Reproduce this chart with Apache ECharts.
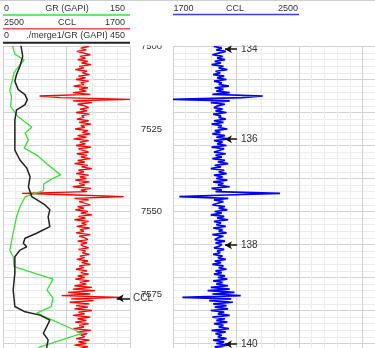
<!DOCTYPE html>
<html>
<head>
<meta charset="utf-8">
<script src="https://cdn.jsdelivr.net/npm/echarts@6/dist/echarts.min.js"></script>
<style>
  html, body { margin: 0; padding: 0; background: #fff; }
  #chart { width: 375px; height: 348px; }
</style>
</head>
<body>
<div id="chart"></div>
<script>
// ---- Log data (depth in ft) ----
const grDepth = [7499.5, 7502.3, 7504.1, 7505.9, 7507.9, 7510.2, 7513.2, 7515.2, 7518.2, 7521.3,
  7524.5, 7526.2, 7528.3, 7530.8, 7532.9, 7535.6, 7538.9, 7540.2, 7541.7, 7543.7,
  7545.6, 7548.6, 7551.6, 7556.5, 7561.7, 7563.7, 7566.7, 7570.5, 7573.8, 7576.2,
  7578.8, 7580.8, 7586.9, 7591.0, 7594.0];
const grValue = [11, 14, 25, 19, 13, 11, 8, 10, 9, 18,
  34, 26, 30, 25, 40, 52, 68, 57, 48, 48,
  26, 20, 16, 12, 8, 12, 13, 59, 52, 59,
  57, 40, 93, 44, 30];

const mergeGrDepth = [7499.5, 7503.0, 7506.0, 7508.5, 7510.5, 7513.1, 7514.6, 7516.1, 7517.6, 7518.6,
  7519.2, 7522.3, 7525.3, 7531.4, 7534.4, 7536.8, 7539.5, 7542.5, 7545.5, 7548.0,
  7549.5, 7551.6, 7554.6, 7556.6, 7558.1, 7559.6, 7560.7, 7561.7, 7563.7, 7568.7,
  7573.8, 7578.8, 7580.4, 7581.4, 7582.9, 7584.9, 7586.9, 7588.9, 7591.0, 7594.0];
const mergeGrValue = [63, 70, 60, 48, 42, 54, 78, 86, 78, 60,
  48, 42, 42, 42, 60, 84, 96, 90, 102, 149,
  166, 160, 166, 119, 78, 72, 84, 60, 42, 42,
  36, 42, 78, 131, 166, 155, 143, 160, 155, 150];

// CCL sampled every 0.5 ft starting at 7499 ft
const cclStartDepth = 7499;
const cclStep = 0.5;
const cclValue = [
  1985, 2020, 1960, 2010, 1975, 2035, 1990, 1950, 2015, 1980,
  2030, 1965, 2005, 1945, 2020, 1990, 2045, 1970, 2000, 1955,
  2025, 1980, 2040, 1960, 2010, 1990, 2055, 1965, 2020, 1975,
  2060, 1950, 2270, 2140, 1700, 2060, 1940, 2030, 1985, 1960,
  2015, 1970, 2040, 1955, 2005, 1990, 2035, 1960, 2020, 1945,
  2010, 1985, 2045, 1965, 2000, 1950, 2030, 1975, 2055, 1960,
  2015, 1980, 2040, 1945, 2025, 1995, 1960, 2035, 1970, 2010,
  1950, 2030, 1985, 2050, 1965, 2005, 1940, 2025, 1990, 2040,
  1960, 2015, 1975, 2045, 1955, 2020, 1985, 2060, 1945, 2010,
  1970, 2380, 2040, 1740, 2050, 1960, 2020, 1985, 1950, 2030,
  1990, 2045, 1965, 2010, 1940, 2025, 1980, 2050, 1960, 2005,
  1975, 2035, 1955, 2015, 1990, 2040, 1950, 2020, 1985, 1965,
  2030, 1970, 2010, 1995, 1960, 2025, 1980, 2000, 1955, 2015,
  1985, 2035, 1965, 2005, 1950, 2020, 1990, 2040, 1970, 2010,
  1960, 2030, 1985, 2045, 1955, 2015, 1975, 2050, 1940, 2060,
  1920, 2090, 1950, 2130, 1760, 2070, 1930, 2080, 1955, 2040,
  1965, 2050, 1940, 2025, 1985, 2060, 1950, 2030, 1975, 2045,
  1960, 2020, 1990, 2055, 1945, 2035, 1970, 2010, 1985, 2040,
  1955, 2025, 1975, 2050, 1965, 2015, 1990, 2030
];

// Collar markers
const collarDepth = [7500.8, 7528.1, 7560.2, 7590.2];
const collarLabel = ['134', '136', '138', '140'];
const cclMarkDepth = 7576.3;
const cclMarkLabel = 'CCL';

const depthLabelTicks = 25;

// ---- Build series data ----
const zip = (xs, ds) => xs.map((v, i) => [v, ds[i]]);
const cclDepth = cclValue.map((_, i) => cclStartDepth + i * cclStep);

const FONT = '"Liberation Sans", Arial, sans-serif';
const TXT = '#333';
const LIGHT = '#ececec', DARK = '#d2d2d2';
const fiveCycle = [DARK, LIGHT, LIGHT, LIGHT, LIGHT];

function depthAxis(gridIndex) {
  return {
    type: 'value', gridIndex, inverse: true, min: 7500, max: 7600, interval: 2,
    axisLine: { show: false }, axisTick: { show: false }, axisLabel: { show: false },
    splitLine: { show: true, lineStyle: { color: fiveCycle, width: 1 } }
  };
}
function valueAxis(gridIndex, min, max, interval, withGrid, inverse) {
  return {
    type: 'value', gridIndex, min, max, interval, inverse: !!inverse,
    axisLine: { show: false }, axisTick: { show: false }, axisLabel: { show: false },
    splitLine: { show: withGrid, lineStyle: { color: fiveCycle, width: 1 } }
  };
}

const trackTop = 46.5, trackH = 330;
const gridBase = { top: trackTop, height: trackH, containLabel: false, outerBoundsMode: 'none' };

const option = {
  animation: false,
  backgroundColor: '#fff',
  grid: [
    Object.assign({ left: 3, width: 127 }, gridBase),
    Object.assign({ left: 173, width: 126 }, gridBase),
    Object.assign({ left: 299, width: 127 }, gridBase)
  ],
  xAxis: [
    valueAxis(0, 0, 150, 15, true),           // GR
    valueAxis(0, 1700, 2500, 80, false, true), // CCL (reversed)
    valueAxis(0, 0, 450, 45, false),          // merged GR
    valueAxis(1, 1700, 2500, 80, true),       // CCL
    valueAxis(2, 0, 10, 1, true)              // empty track
  ],
  yAxis: [
    depthAxis(0),
    depthAxis(1),
    depthAxis(2),
    {
      type: 'value', gridIndex: 1, inverse: true, min: 7500, max: 7600, interval: depthLabelTicks,
      position: 'left',
      axisLine: { show: false }, axisTick: { show: false }, splitLine: { show: false },
      axisLabel: {
        show: true, color: TXT, fontSize: 9.5, fontFamily: FONT, align: 'center', margin: 21.5,
        showMinLabel: true, showMaxLabel: false, formatter: v => String(v)
      }
    }
  ],
  series: [
    {
      type: 'line', xAxisIndex: 0, yAxisIndex: 0, data: zip(grValue, grDepth),
      showSymbol: false, clip: true, lineStyle: { color: '#3bdc3b', width: 1.3 }, z: 3
    },
    {
      type: 'line', xAxisIndex: 2, yAxisIndex: 0, data: zip(mergeGrValue, mergeGrDepth),
      showSymbol: false, clip: true, lineStyle: { color: '#222', width: 1.5 }, z: 4
    },
    {
      type: 'line', xAxisIndex: 1, yAxisIndex: 0, data: zip(cclValue, cclDepth),
      showSymbol: false, clip: true, lineStyle: { color: '#ff0000', width: 1.3 }, z: 2
    },
    {
      type: 'line', xAxisIndex: 3, yAxisIndex: 1, data: zip(cclValue, cclDepth),
      showSymbol: false, clip: true, lineStyle: { color: '#0000ff', width: 1.7 }, z: 2
    },
    {
      // collar arrows in the CCL track
      type: 'line', xAxisIndex: 3, yAxisIndex: 1, data: [], clip: false, silent: true, z: 6,
      markLine: {
        silent: true, animation: false,
        symbol: ['arrow', 'none'], symbolSize: [6, 7],
        lineStyle: { color: '#111', width: 1.5, type: 'solid' },
        label: { show: true, position: 'end', distance: 4, color: TXT, fontSize: 10, fontFamily: FONT },
        data: collarDepth.map((d, i) => [
          { coord: [2030, d], name: collarLabel[i], label: { formatter: collarLabel[i] } },
          { coord: [2106, d] }
        ])
      }
    },
    {
      // CCL pointer in the first track, running to the track edge
      type: 'line', xAxisIndex: 1, yAxisIndex: 0, data: [], clip: false, silent: true, z: 6,
      markLine: {
        silent: true, animation: false,
        symbol: ['arrow', 'none'], symbolSize: [6, 7],
        lineStyle: { color: '#111', width: 1.5, type: 'solid' },
        label: { show: true, position: 'end', distance: 3, color: TXT, fontSize: 10, fontFamily: FONT },
        data: [[
          { coord: [1784, cclMarkDepth], label: { formatter: cclMarkLabel } },
          { coord: [1700, cclMarkDepth] }
        ]]
      }
    }
  ],
  graphic: [
    // header backing
    { type: 'rect', z: 50, shape: { x: 0, y: 0, width: 375, height: 45.5 }, style: { fill: '#fff' } },
    { type: 'line', z: 51, shape: { x1: 0, y1: 0.5, x2: 375, y2: 0.5 }, style: { stroke: '#d0d0d0', lineWidth: 1 } },
    // track 1 header
    { type: 'text', z: 52, style: { text: '0', x: 4, y: 8.5, align: 'left', verticalAlign: 'middle', fill: TXT, font: '9px ' + FONT } },
    { type: 'text', z: 52, style: { text: 'GR (GAPI)', x: 67, y: 8.5, align: 'center', verticalAlign: 'middle', fill: TXT, font: '9px ' + FONT } },
    { type: 'text', z: 52, style: { text: '150', x: 125, y: 8.5, align: 'right', verticalAlign: 'middle', fill: TXT, font: '9px ' + FONT } },
    { type: 'line', z: 52, shape: { x1: 3, y1: 15, x2: 130, y2: 15 }, style: { stroke: '#3bdc3b', lineWidth: 1.5 } },
    { type: 'text', z: 52, style: { text: '2500', x: 4, y: 22.3, align: 'left', verticalAlign: 'middle', fill: TXT, font: '9px ' + FONT } },
    { type: 'text', z: 52, style: { text: 'CCL', x: 67, y: 22.3, align: 'center', verticalAlign: 'middle', fill: TXT, font: '9px ' + FONT } },
    { type: 'text', z: 52, style: { text: '1700', x: 125, y: 22.3, align: 'right', verticalAlign: 'middle', fill: TXT, font: '9px ' + FONT } },
    { type: 'line', z: 52, shape: { x1: 3, y1: 28.7, x2: 130, y2: 28.7 }, style: { stroke: '#ff5050', lineWidth: 1.5 } },
    { type: 'text', z: 52, style: { text: '0', x: 4, y: 35.8, align: 'left', verticalAlign: 'middle', fill: TXT, font: '9px ' + FONT } },
    { type: 'text', z: 52, style: { text: './merge1/GR (GAPI)', x: 67, y: 35.8, align: 'center', verticalAlign: 'middle', fill: TXT, font: '9px ' + FONT } },
    { type: 'text', z: 52, style: { text: '450', x: 125, y: 35.8, align: 'right', verticalAlign: 'middle', fill: TXT, font: '9px ' + FONT } },
    { type: 'line', z: 52, shape: { x1: 3, y1: 42.7, x2: 130, y2: 42.7 }, style: { stroke: '#222', lineWidth: 2 } },
    // track 2 header
    { type: 'text', z: 52, style: { text: '1700', x: 173.5, y: 8.5, align: 'left', verticalAlign: 'middle', fill: TXT, font: '9px ' + FONT } },
    { type: 'text', z: 52, style: { text: 'CCL', x: 235, y: 8.5, align: 'center', verticalAlign: 'middle', fill: TXT, font: '9px ' + FONT } },
    { type: 'text', z: 52, style: { text: '2500', x: 298, y: 8.5, align: 'right', verticalAlign: 'middle', fill: TXT, font: '9px ' + FONT } },
    { type: 'line', z: 52, shape: { x1: 173, y1: 14.5, x2: 299, y2: 14.5 }, style: { stroke: '#3344ee', lineWidth: 1.5 } }
  ]
};

const chart = echarts.init(document.getElementById('chart'), null, { renderer: 'canvas' });
chart.setOption(option);
</script>
</body>
</html>
